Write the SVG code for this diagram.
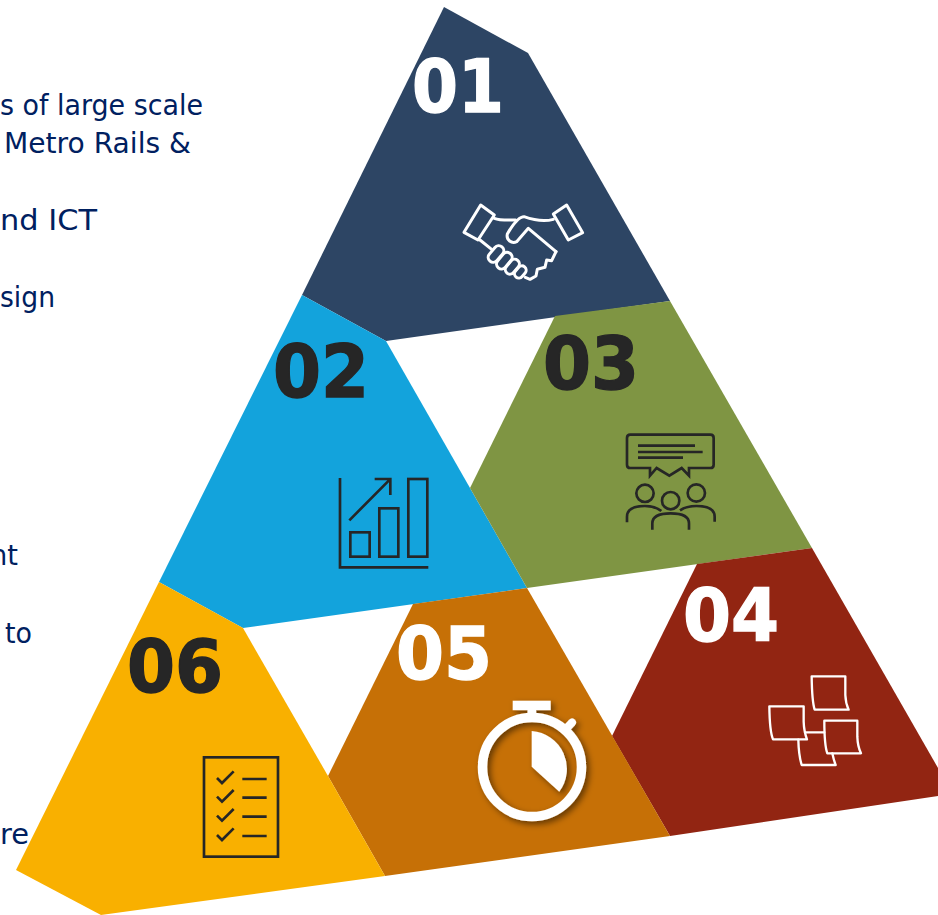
<svg xmlns="http://www.w3.org/2000/svg" width="938" height="915" viewBox="0 0 938 915">
<style>
.t{font-family:"DejaVu Sans","Liberation Sans",sans-serif;font-size:29px;fill:#002060}
.n{font-family:"DejaVu Sans","Liberation Sans",sans-serif;font-size:73px;font-weight:700;stroke-width:1.4}
.w{fill:#fff;stroke:#fff}.d{fill:#262626;stroke:#262626}
.iw{fill:none;stroke:#fff;stroke-linejoin:round;stroke-linecap:round}
.id{fill:none;stroke:#262626}
</style>
<defs><filter id="sh" x="-20%" y="-20%" width="150%" height="150%"><feDropShadow dx="3" dy="3" stdDeviation="3" flood-color="#000" flood-opacity=".5"/></filter></defs>
<rect width="938" height="915" fill="#fff"/>
<g id="left-text">
<text class="t" x="0" y="115" textLength="203" lengthAdjust="spacingAndGlyphs">s of large scale</text>
<text class="t" x="4" y="153" textLength="187" lengthAdjust="spacingAndGlyphs">Metro Rails &amp;</text>
<text class="t" x="0" y="230" textLength="97" lengthAdjust="spacingAndGlyphs">nd ICT</text>
<text class="t" x="0" y="307" textLength="55" lengthAdjust="spacingAndGlyphs">sign</text>
<text class="t" x="-10" y="565" textLength="28" lengthAdjust="spacingAndGlyphs">nt</text>
<text class="t" x="5" y="643" textLength="27" lengthAdjust="spacingAndGlyphs">to</text>
<text class="t" x="0" y="844" textLength="29" lengthAdjust="spacingAndGlyphs">re</text>
</g>
<g id="node-01">
<polygon points="444,7 528,53 670,301 386,341 302,295" fill="#2D4564"/>
<text class="n w" x="412" y="112" textLength="92" lengthAdjust="spacingAndGlyphs">01</text>
<g transform="translate(450,190) scale(.3333)" class="iw" stroke-width="9">
<path d="M92,45L133,75L84,150L42,127Z"/><path d="M350,45L310,72L355,150L398,128Z"/>
<path d="M133,85C150,92 175,90 197,90"/>
<path d="M310,88C285,95 250,90 222,80C210,80 195,92 172,132C168,150 185,162 200,155L235,115L318,185"/>
<path d="M318,185L305,212L290,210L285,232L262,238L258,258L240,268L226,262"/>
<path d="M90,150L125,178"/>
<rect x="-28" y="-15" width="56" height="30" rx="15" transform="translate(138,192) rotate(-50)"/>
<rect x="-28" y="-15" width="56" height="30" rx="15" transform="translate(163,212) rotate(-50)"/>
<rect x="-25" y="-14" width="50" height="28" rx="14" transform="translate(187,230) rotate(-50)"/>
<rect x="-20" y="-13" width="40" height="26" rx="13" transform="translate(211,246) rotate(-50)"/>
</g>
</g>
<g id="node-02">
<polygon points="302,295 386,341 470,488 527,588 243,628 159,582" fill="#13A3DC"/>
<text class="n d" x="273" y="397" textLength="96" lengthAdjust="spacingAndGlyphs">02</text>
<g transform="translate(330,470) scale(.3333)" class="id" stroke-width="8">
<path d="M30,24V292H295"/>
<rect x="61" y="187" width="58" height="73"/><rect x="148" y="115" width="57" height="145"/><rect x="235" y="27" width="57" height="233"/>
<path d="M58,151L180,28M134,27H181V75"/>
</g>
</g>
<g id="node-03">
<polygon points="555,316 670,301 812,548 527,588 470,488" fill="#7F9543"/>
<text class="n d" x="543" y="389" textLength="96" lengthAdjust="spacingAndGlyphs">03</text>
<g transform="translate(615,425) scale(.3333)" class="id" stroke-width="8">
<path d="M46,29H286Q296,29 296,39V119Q296,129 286,129H222V152L200,129L163,152L125,129L105,152V129H46Q36,129 36,119V39Q36,29 46,29Z"/>
<path d="M69,62H240M69,81H263M69,98H204"/>
<circle cx="90" cy="205" r="26"/><circle cx="167" cy="227" r="26"/><circle cx="244" cy="204" r="26"/>
<path d="M36,292V275Q36,243 90,243Q120,243 139,258"/>
<path d="M299,290V275Q299,243 244,243Q214,243 195,256"/>
<path d="M112,314V295Q112,265 167,265Q222,265 222,295V314"/>
</g>
</g>
<g id="node-04">
<polygon points="697,564 812,548 938,768 938,796 670,836 612,736" fill="#922512"/>
<text class="n w" x="683" y="641" textLength="96" lengthAdjust="spacingAndGlyphs">04</text>
<g transform="translate(755,665) scale(.3333)" class="iw" stroke-width="7" stroke-linecap="butt">
<path d="M170,34H271V90Q272,115 281,134H179Q171,110 170,34Z"/>
<path d="M43,124H146V170Q147,200 156,223H54Q44,200 43,124Z"/>
<path d="M208,167H307V215Q308,245 318,265H217Q208,240 208,167Z"/>
<path d="M150,202H208M130,224Q131,270 140,300H242Q236,285 232,265"/>
</g>
</g>
<g id="node-05">
<polygon points="413,604 527,588 670,836 385,876 328,776" fill="#C67006"/>
<text class="n w" x="396" y="679" textLength="96" lengthAdjust="spacingAndGlyphs">05</text>
<g id="stopwatch" filter="url(#sh)">
<circle cx="532" cy="767" r="49.5" fill="none" stroke="#fff" stroke-width="9.5"/>
<rect x="512.7" y="700.7" width="38" height="9.5" fill="#fff"/>
<rect x="527.5" y="710" width="8.7" height="10" fill="#fff"/>
<path d="M565,730L572,722.500" stroke="#fff" stroke-width="8" stroke-linecap="round"/>
<path d="M531.700,731V766.700L559.300,791.700A38,38 0 0 0 531.700,731Z" fill="#fff"/>
</g>
</g>
<g id="node-06">
<polygon points="159,582 243,628 328,776 385,876 101,915 16,870" fill="#F9B000"/>
<text class="n d" x="127" y="692" textLength="96" lengthAdjust="spacingAndGlyphs">06</text>
<g transform="translate(190,745) scale(.3333)" class="id" stroke-width="8">
<rect x="42" y="37" width="222" height="298"/>
<path d="M157,102H230M157,158H230M157,215H230M157,273H230"/>
<path d="M81,99L96,114L131,79M81,155L96,170L131,135M81,212L96,227L131,192M81,270L96,285L131,250"/>
</g>
</g>
</svg>
